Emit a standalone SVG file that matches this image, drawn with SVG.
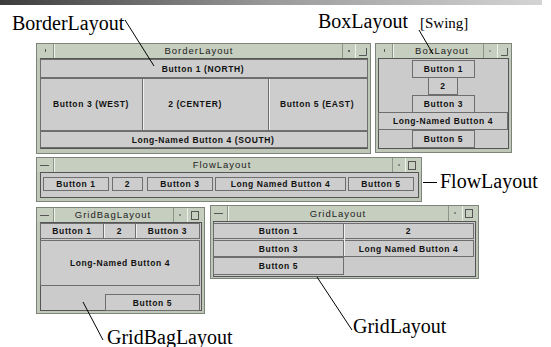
<svg xmlns="http://www.w3.org/2000/svg" width="551" height="347" viewBox="0 0 551 347">
<defs>
<linearGradient id="topbar" x1="0" y1="0" x2="1" y2="0">
<stop offset="0" stop-color="#3c3c3c"/>
<stop offset="0.5" stop-color="#9a9a9a"/>
<stop offset="1" stop-color="#d4d4d4"/>
</linearGradient>
<style>
.frame{fill:#bfc7b8;stroke:#7d8479;stroke-width:1}
.tbar{fill:#c6cebf;stroke:none}
.sep{stroke:#eef1ea;stroke-width:1}
.sepd{stroke:#8d9489;stroke-width:1}
.content{fill:#cbcbcb;stroke:#555;stroke-width:1}
.btn{fill:#cdcdcd;stroke:#6e6e6e;stroke-width:1}
.bhi{fill:none;stroke:#f0f0f0;stroke-width:1}
.mark{stroke:#555;stroke-width:1;fill:none}
.bt{font-family:"Liberation Sans",Arial,sans-serif;font-size:8.5px;font-weight:bold;fill:#111;text-anchor:middle;letter-spacing:0.6px}
.tt{font-family:"Liberation Sans",Arial,sans-serif;font-size:9.5px;fill:#222;text-anchor:middle;letter-spacing:1px}
.lbl{font-family:"Liberation Serif","Times New Roman",serif;font-size:20px;fill:#000}
.sm{font-size:15px}
.conn line{stroke:#000;stroke-width:1}
</style>
</defs>
<rect x="0" y="0" width="551" height="347" fill="#fff"/>
<rect x="0" y="0" width="542" height="5" fill="url(#topbar)"/>

<g id="border-window">
<rect class="frame" x="36.5" y="43.5" width="334" height="110"/>
<rect class="tbar" x="37" y="44" width="333" height="14"/>
<line class="sepd" x1="53.5" y1="44" x2="53.5" y2="58"/>
<line class="sep" x1="54.5" y1="44" x2="54.5" y2="58"/>
<line class="sepd" x1="342.5" y1="44" x2="342.5" y2="58"/>
<line class="sep" x1="355.5" y1="44" x2="355.5" y2="58"/>
<line class="mark" x1="45.5" y1="49" x2="45.5" y2="52"/>
<rect x="348" y="50" width="2" height="2" fill="#666"/>
<path class="mark" d="M359 55.5H366.5V48"/>
<text class="tt" x="199" y="54">BorderLayout</text>
<rect class="content" x="40.5" y="58.5" width="327" height="90"/>
<rect class="btn" x="40.5" y="59.5" width="327" height="18"/>
<rect class="btn" x="40.5" y="78.5" width="102" height="52"/>
<rect class="btn" x="142.5" y="78.5" width="126" height="52"/>
<rect class="btn" x="268.5" y="78.5" width="99" height="52"/>
<rect class="btn" x="40.5" y="131.5" width="327" height="16"/>
<line class="bhi" x1="143.5" y1="79" x2="143.5" y2="130"/>
<line class="bhi" x1="269.5" y1="79" x2="269.5" y2="130"/>
<text class="bt" x="203" y="71.5">Button 1 (NORTH)</text>
<text class="bt" x="91" y="107">Button 3 (WEST)</text>
<text class="bt" x="195" y="107">2 (CENTER)</text>
<text class="bt" x="317" y="107">Button 5 (EAST)</text>
<text class="bt" x="203" y="142.5">Long-Named Button 4 (SOUTH)</text>
</g>

<g id="box-window">
<rect class="frame" x="375.5" y="43.5" width="136" height="109"/>
<rect class="tbar" x="376" y="44" width="135" height="14"/>
<line class="sepd" x1="392.5" y1="44" x2="392.5" y2="58"/>
<line class="sep" x1="393.5" y1="44" x2="393.5" y2="58"/>
<line class="sepd" x1="483.5" y1="44" x2="483.5" y2="58"/>
<line class="sep" x1="497.5" y1="44" x2="497.5" y2="58"/>
<line class="mark" x1="384.5" y1="49" x2="384.5" y2="52"/>
<rect x="489" y="50" width="2" height="2" fill="#999"/>
<path class="mark" d="M501 55.5H507.5V48"/>
<text class="tt" x="442" y="54">BoxLayout</text>
<rect class="content" x="378.5" y="58.5" width="130" height="90"/>
<rect class="btn" x="412.5" y="60.5" width="62" height="17"/>
<rect class="btn" x="428.5" y="77.5" width="29" height="17"/>
<rect class="btn" x="412.5" y="95.5" width="62" height="17"/>
<rect class="btn" x="378.5" y="112.5" width="129" height="17"/>
<rect class="btn" x="412.5" y="130.5" width="62" height="17"/>
<text class="bt" x="443.5" y="72">Button 1</text>
<text class="bt" x="443" y="89">2</text>
<text class="bt" x="443.5" y="107">Button 3</text>
<text class="bt" x="443" y="124">Long-Named Button 4</text>
<text class="bt" x="443.5" y="142">Button 5</text>
</g>

<g id="flow-window">
<rect class="frame" x="36.5" y="157.5" width="385" height="44"/>
<rect class="tbar" x="37" y="158" width="384" height="14"/>
<line class="sepd" x1="53.5" y1="158" x2="53.5" y2="172"/>
<line class="sep" x1="54.5" y1="158" x2="54.5" y2="172"/>
<line class="sepd" x1="392.5" y1="158" x2="392.5" y2="172"/>
<line class="sep" x1="405.5" y1="158" x2="405.5" y2="172"/>
<line class="mark" x1="40" y1="165.5" x2="49" y2="165.5"/>
<rect x="398" y="164" width="2" height="2" fill="#888"/>
<rect class="mark" x="408.5" y="161.5" width="7" height="8"/>
<text class="tt" x="222" y="168">FlowLayout</text>
<rect class="content" x="40.5" y="172.5" width="378" height="25"/>
<rect class="btn" x="43.5" y="177.5" width="65" height="13"/>
<rect class="btn" x="112.5" y="177.5" width="30" height="13"/>
<rect class="btn" x="147.5" y="177.5" width="65" height="13"/>
<rect class="btn" x="215.5" y="177.5" width="130" height="13"/>
<rect class="btn" x="348.5" y="177.5" width="65" height="13"/>
<text class="bt" x="76" y="187">Button 1</text>
<text class="bt" x="127.5" y="187">2</text>
<text class="bt" x="180" y="187">Button 3</text>
<text class="bt" x="280.5" y="187">Long Named Button 4</text>
<text class="bt" x="381" y="187">Button 5</text>
</g>

<g id="gridbag-window">
<rect class="frame" x="36.5" y="207.5" width="168" height="106"/>
<rect class="tbar" x="37" y="208" width="167" height="14"/>
<line class="sepd" x1="53.5" y1="208" x2="53.5" y2="222"/>
<line class="sep" x1="54.5" y1="208" x2="54.5" y2="222"/>
<line class="sepd" x1="173.5" y1="208" x2="173.5" y2="222"/>
<line class="sep" x1="187.5" y1="208" x2="187.5" y2="222"/>
<line class="mark" x1="40" y1="215.5" x2="49" y2="215.5"/>
<rect x="179" y="214" width="2" height="2" fill="#888"/>
<rect class="mark" x="191.5" y="211.5" width="7" height="8"/>
<text class="tt" x="113" y="218">GridBagLayout</text>
<rect class="content" x="40.5" y="222.5" width="161" height="88"/>
<rect class="btn" x="40.5" y="223.5" width="63" height="15"/>
<rect class="btn" x="103.5" y="223.5" width="32" height="15"/>
<rect class="btn" x="135.5" y="223.5" width="64" height="15"/>
<rect class="btn" x="40.5" y="240.5" width="159" height="45"/>
<rect class="btn" x="105.5" y="294.5" width="94" height="16"/>
<line class="bhi" x1="104.5" y1="224" x2="104.5" y2="238"/>
<line class="bhi" x1="136.5" y1="224" x2="136.5" y2="238"/>
<text class="bt" x="72" y="234">Button 1</text>
<text class="bt" x="119.5" y="234">2</text>
<text class="bt" x="167.5" y="234">Button 3</text>
<text class="bt" x="120" y="266">Long-Named Button 4</text>
<text class="bt" x="152.5" y="305.5">Button 5</text>
</g>

<g id="grid-window">
<rect class="frame" x="210.5" y="205.5" width="268" height="73"/>
<rect class="tbar" x="211" y="206" width="267" height="15"/>
<line class="sepd" x1="227.5" y1="206" x2="227.5" y2="221"/>
<line class="sep" x1="228.5" y1="206" x2="228.5" y2="221"/>
<line class="sepd" x1="448.5" y1="206" x2="448.5" y2="221"/>
<line class="sep" x1="462.5" y1="206" x2="462.5" y2="221"/>
<line class="mark" x1="214" y1="213.5" x2="223" y2="213.5"/>
<rect x="454" y="212" width="2" height="2" fill="#888"/>
<rect class="mark" x="465.5" y="209.5" width="7" height="8"/>
<text class="tt" x="338" y="216.5">GridLayout</text>
<rect class="content" x="213.5" y="221.5" width="262" height="55"/>
<rect class="btn" x="213.5" y="223.5" width="130" height="15"/>
<rect class="btn" x="343.5" y="223.5" width="130" height="15"/>
<rect class="btn" x="213.5" y="240.5" width="130" height="16"/>
<rect class="btn" x="343.5" y="240.5" width="130" height="16"/>
<rect class="btn" x="213.5" y="257.5" width="130" height="17"/>
<line class="bhi" x1="344.5" y1="224" x2="344.5" y2="256"/>
<text class="bt" x="278.5" y="234">Button 1</text>
<text class="bt" x="408.5" y="234">2</text>
<text class="bt" x="278.5" y="251.5">Button 3</text>
<text class="bt" x="408.5" y="251.5">Long Named Button 4</text>
<text class="bt" x="278.5" y="269">Button 5</text>
</g>

<g id="connectors" class="conn">
<line x1="125" y1="20" x2="154" y2="66"/>
<line x1="419" y1="30" x2="433" y2="54"/>
<line x1="423" y1="182.5" x2="437" y2="182.5"/>
<line x1="83" y1="302" x2="103" y2="340"/>
<line x1="317" y1="277" x2="352" y2="330"/>
</g>

<g id="labels">
<text id="label-border" class="lbl" x="12" y="30">BorderLayout</text>
<text id="label-box" class="lbl" x="318" y="28">BoxLayout</text>
<text id="label-swing" class="lbl sm" x="420" y="28">[Swing]</text>
<text id="label-flow" class="lbl" x="440" y="188">FlowLayout</text>
<text id="label-gridbag" class="lbl" x="107" y="344">GridBagLayout</text>
<text id="label-grid" class="lbl" x="353" y="333">GridLayout</text>
</g>
</svg>
